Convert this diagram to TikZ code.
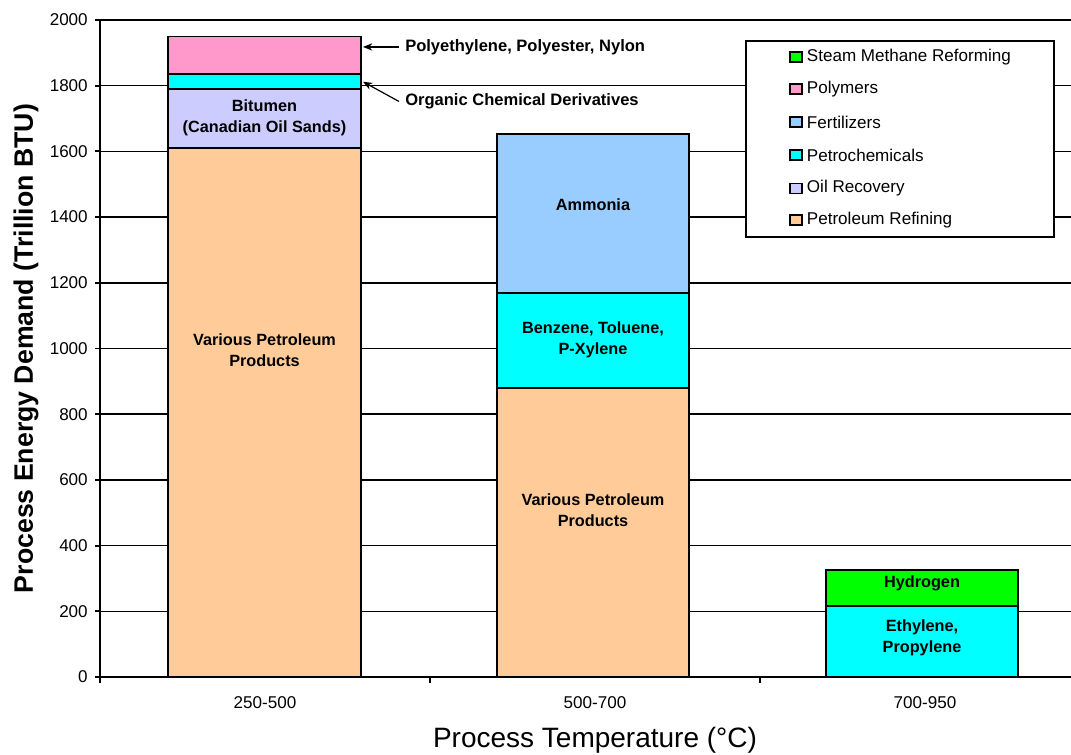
\documentclass[tikz,border=0pt]{standalone}
\usepackage{fontspec}
\setmainfont{Liberation Sans}
\usetikzlibrary{arrows.meta,positioning}

\definecolor{refining}{HTML}{FFCC99}
\definecolor{recovery}{HTML}{CCCCFF}
\definecolor{petrochem}{HTML}{00FFFF}
\definecolor{fertilizer}{HTML}{99CCFF}
\definecolor{polymer}{HTML}{FF99CC}
\definecolor{reforming}{HTML}{00FF00}

\tikzset{
  gridline/.style={line width=1.2pt},
  axisline/.style={line width=1.4pt},
  barseg/.style={draw=black, line width=1.3pt},
  barlabel/.style={font=\fontsize{12.2}{15.5}\selectfont\bfseries, align=center, inner sep=0pt},
  note/.style={font=\fontsize{12.4}{15}\selectfont\bfseries, anchor=west, inner xsep=4.5pt, inner ysep=0pt},
  pointer/.style={line width=0.9pt, -{Stealth[length=7pt,width=5.5pt]}},
  ticklabel/.style={font=\fontsize{12.8}{15}\selectfont, inner sep=0pt},
  swatch/.style={draw=black, line width=1pt, minimum width=9pt, minimum height=7.5pt, inner sep=0pt},
  keytext/.style={font=\fontsize{12.8}{15}\selectfont, inner xsep=3pt, inner ysep=0pt},
  axistitle/.style={font=\fontsize{21}{25}\selectfont}
}

\begin{document}
\begin{tikzpicture}[x=0.75pt, y=0.24638pt]
    % page frame
    \useasboundingbox (-100,-234.4) rectangle (971,2060.9);

    % grid and y axis
    \foreach \v in {200,400,...,2000}
        \draw[gridline] (0,\v) -- (971,\v);
    \foreach \v in {0,200,...,2000} {
        \draw[axisline] (-5,\v) -- (0,\v);
        \node[ticklabel, anchor=east] (ytick\v) at (-12,\v) {\v};
    }
    \draw[axisline] (0,0) -- (0,2000);
    \draw[axisline] (0,0) -- (971,0);
    \foreach \x in {0,330,660}
        \draw[axisline] (\x,0) -- (\x,-17);

    % 250-500
    \draw[barseg, fill=refining] (68,0) rectangle (261,1610);
    \draw[barseg, fill=recovery] (68,1610) rectangle (261,1790);
    \draw[barseg, fill=petrochem] (68,1790) rectangle (261,1835);
    \draw[barseg, fill=polymer] (68,1835) rectangle (261,1950);
    \node[barlabel] (refineA) at (164.5,995) {Various Petroleum\\Products};
    \node[barlabel] (bitumen) at (164.5,1702) {Bitumen\\(Canadian Oil Sands)};

    % 500-700
    \draw[barseg, fill=refining] (397,0) rectangle (589,880);
    \draw[barseg, fill=petrochem] (397,880) rectangle (589,1170);
    \draw[barseg, fill=fertilizer] (397,1170) rectangle (589,1652);
    \node[barlabel] (refineB) at (493,508) {Various Petroleum\\Products};
    \node[barlabel] (aromatics) at (493,1026) {Benzene, Toluene,\\P-Xylene};
    \node[barlabel] (ammonia) at (493,1437) {Ammonia};

    % 700-950
    \draw[barseg, fill=petrochem] (726,0) rectangle (918,216);
    \draw[barseg, fill=reforming] (726,216) rectangle (918,326);
    \node[barlabel] (olefins) at (822,119) {Ethylene,\\Propylene};
    \node[barlabel] (hydrogen) at (822,286) {Hydrogen};

    % callouts
    \coordinate (polytip) at (263,1918);
    \coordinate (orgtip) at (263,1812);
    \node[note] (polynote) at (299,1918) {Polyethylene, Polyester, Nylon};
    \node[note] (orgnote) at (299,1752) {Organic Chemical Derivatives};
    \draw[pointer] (polynote.west) -- (polytip);
    \draw[pointer] (orgnote.west) -- (orgtip);

    % legend
    \node[draw=black, fill=white, line width=1.2pt, anchor=north west,
          minimum width=231pt, minimum height=147pt] (legend) at (645,1939) {};
    \foreach \k/\c/\t/\y in {smr/reforming/Steam Methane Reforming/1887,
                             poly/polymer/Polymers/1790,
                             fert/fertilizer/Fertilizers/1689,
                             chem/petrochem/Petrochemicals/1589,
                             oil/recovery/Oil Recovery/1488,
                             ref/refining/Petroleum Refining/1391} {
        \node[swatch, fill=\c] (key\k) at (696,\y) {};
        \node[keytext, right=0pt of key\k] (keytext\k) {\t};
    }

    % categories and titles
    \node[ticklabel] (cat1) at (165,-79) {250-500};
    \node[ticklabel] (cat2) at (495,-79) {500-700};
    \node[ticklabel] (cat3) at (825,-79) {700-950};
    \node[axistitle, anchor=base] (xtitle) at (495,-216) {Process Temperature (°C)};
    \node[axistitle, font=\fontsize{20}{24}\selectfont\bfseries, anchor=base, rotate=90] (ytitle) at (-67,1000) {Process Energy Demand (Trillion BTU)};
\end{tikzpicture}
\end{document}
